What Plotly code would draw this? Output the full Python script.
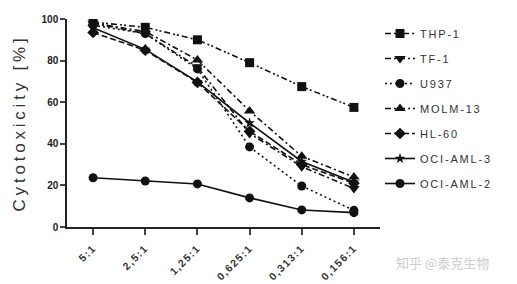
import plotly.graph_objects as go

ratios = ["5:1", "2,5:1", "1,25:1", "0,625:1", "0,313:1", "0,156:1"]
thp1 = [98.5, 96, 90, 79, 67.5, 57.5]
tf1 = [98, 93, 77, 45, 29, 18.5]
u937 = [97, 93, 76, 38.5, 19.7, 8]
molm13 = [98, 94, 80.3, 55.8, 34, 24]
hl60 = [93.5, 85, 69.5, 46, 30, 21]
ociaml3 = [95.8, 85.4, 69.8, 50, 31.5, 21.5]
ociaml2 = [23.7, 22.1, 20.7, 14, 8.2, 6.9]

series = [
    ("THP-1", thp1, "square", "6px,3px,2px,2px,2px,3px", 9),
    ("TF-1", tf1, "triangle-down", "6px,3px,2px,3px", 10),
    ("U937", u937, "circle", "2px,3px", 9),
    ("MOLM-13", molm13, "triangle-up", "6px,3px,2px,3px", 10),
    ("HL-60", hl60, "diamond", "6px,3px", 9),
    ("OCI-AML-3", ociaml3, "star", "solid", 8),
    ("OCI-AML-2", ociaml2, "circle", "solid", 9),
]

fig = go.Figure()
for i, (name, vals, sym, dash, size) in enumerate(series):
    fig.add_trace(go.Scatter(
        x=list(range(len(ratios))), y=vals,
        name='<span style="letter-spacing:1.8px">' + name + '</span>',
        mode="lines+markers",
        line=dict(color="#111111", width=1.6, dash=dash),
        marker=dict(symbol=sym, size=size, color="#111111"),
        legendgroup=name,
    ))

fig.update_layout(
    width=517, height=284,
    margin=dict(l=67, r=137, t=19, b=57),
    paper_bgcolor="white", plot_bgcolor="white",
    font=dict(family="Liberation Sans, Arial", color="#222222"),
    showlegend=True,
    legend=dict(x=1.0, y=1.0, xanchor="left", yanchor="top",
                font=dict(size=11, color="#333333"),
                tracegroupgap=6, itemwidth=30,
                bgcolor="rgba(0,0,0,0)"),
    xaxis=dict(
        range=[-0.5, 5.5], tickmode="array", automargin=False,
        tickvals=list(range(len(ratios))),
        ticktext=['<span style="letter-spacing:1.4px"><b>' + r + "</b></span>" for r in ratios],
        tickangle=-45, ticks="outside", ticklen=6, tickwidth=1.5,
        ticklabelstandoff=3,
        showline=True, linewidth=1.5, linecolor="#222222",
        showgrid=False, zeroline=False,
        tickfont=dict(size=10.5, family="Liberation Sans", color="#333333"),
    ),
    yaxis=dict(
        range=[0, 100], tickmode="array", tickvals=[0, 20, 40, 60, 80, 100],
        automargin=False,
        ticktext=["<b>%d</b>" % v for v in [0, 20, 40, 60, 80, 100]],
        ticks="outside", ticklen=5, tickwidth=1.5,
        showline=True, linewidth=1.5, linecolor="#222222",
        showgrid=False, zeroline=False,
        tickfont=dict(size=10, family="Liberation Sans", color="#222222"),
        title=dict(text='<span style="letter-spacing:3.8px">Cytotoxicity [%]</span>',
                   font=dict(size=17, color="#333333"), standoff=12),
    ),
    annotations=[dict(
        text="知乎 @泰克生物", xref="paper", yref="paper",
        x=1.0, y=-0.17, xanchor="left", yanchor="middle", xshift=14,
        showarrow=False, font=dict(size=13, color="#cccccc",
                                   family="Noto Sans CJK SC"),
    )],
)

fig.write_html("out.html")
